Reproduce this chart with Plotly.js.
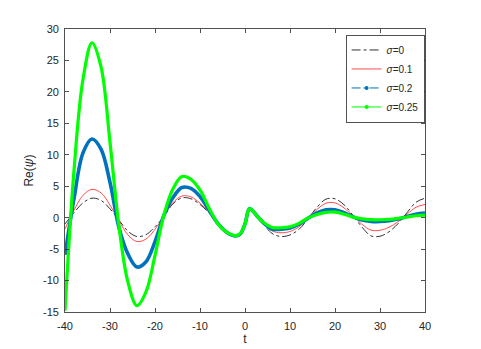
<!DOCTYPE html>
<html>
<head>
<meta charset="utf-8">
<script src="https://cdn.plot.ly/plotly-3.0.1.min.js"></script>
<style>
  html, body { margin: 0; padding: 0; background: #fff; }
  #plot { width: 481px; height: 349px; }
</style>
</head>
<body>
<div id="plot"></div>
<script>
// values
const t = [-40, -38, -36, -34, -32, -30, -28, -26, -24, -22, -20, -18, -16, -14, -12, -10, -8, -6, -4, -2,
  -1, 0, 1, 2, 3, 4, 6, 8, 10, 12, 14, 16, 18, 20, 22, 24, 26, 28, 30, 32, 34, 36, 38, 40];

const sigma0 = [-1.0, 0.8, 2.35, 3.1, 2.75, 1.4, -0.4, -2.15, -3.0, -2.7, -1.45, 0.2, 2.2, 3.15, 3.0, 2.1, 0.75, -0.9, -2.35, -2.95,
  -2.6, -1.0, 1.45, 0.85, 0.0, -0.9, -2.5, -3.0, -2.75, -1.85, -0.2, 1.65, 2.95, 3.0, 2.05, 0.37, -1.5, -2.9, -2.95, -2.25, -0.95, 0.8, 2.45, 3.1];

const sigma01 = [-1.8, 1.2, 3.55, 4.5, 3.95, 2.0, -0.5, -2.75, -3.8, -3.4, -1.85, 0.25, 2.4, 3.45, 3.3, 2.3, 0.85, -0.9, -2.35, -2.9,
  -2.55, -1.0, 1.45, 0.85, 0.0, -0.85, -2.1, -2.4, -2.2, -1.45, -0.15, 1.3, 2.3, 2.35, 1.55, 0.27, -1.05, -1.98, -2.0, -1.52, -0.65, 0.55, 1.66, 2.1];

const sigma02 = [-5.9, 3.0, 10.3, 12.5, 10.9, 5.6, -1.6, -5.8, -7.85, -7.0, -3.8, 0.4, 3.2, 4.8, 4.65, 3.35, 1.2, -0.95, -2.35, -2.9,
  -2.55, -1.0, 1.45, 0.85, 0.0, -0.75, -1.8, -1.85, -1.65, -1.05, -0.1, 0.75, 1.25, 1.25, 0.8, 0.13, -0.38, -0.6, -0.62, -0.48, -0.2, 0.18, 0.55, 0.72];

const sigma025 = [-14.8, 7.5, 22.0, 27.8, 24.0, 12.0, -1.4, -10.3, -14.0, -11.8, -6.0, 0.5, 4.6, 6.55, 6.1, 4.4, 1.55, -1.0, -2.35, -2.85,
  -2.5, -1.0, 1.45, 0.85, 0.0, -0.7, -1.55, -1.6, -1.45, -0.9, -0.08, 0.5, 0.85, 0.87, 0.55, 0.08, -0.18, -0.32, -0.33, -0.26, -0.1, 0.1, 0.3, 0.4];

const xTicks = [-40, -30, -20, -10, 0, 10, 20, 30, 40];
const xTickText = ['-40', '-30', '-20', '-10', '0', '10', '20', '30', '40'];
const yTicks = [-15, -10, -5, 0, 5, 10, 15, 20, 25, 30];
const yTickText = ['-15', '-10', '-5', '0', '5', '10', '15', '20', '25', '30'];

const names = ['<i>σ</i>=0', '<i>σ</i>=0.1', '<i>σ</i>=0.2', '<i>σ</i>=0.25'];

const traces = [
  {x: t, y: sigma0, name: names[0], mode: 'lines',
   line: {color: '#1a1a1a', width: 0.9, dash: 'dashdot', shape: 'spline'}},
  {x: t, y: sigma01, name: names[1], mode: 'lines',
   line: {color: '#ff2020', width: 0.8, shape: 'spline'}},
  {x: t, y: sigma02, name: names[2], mode: 'lines', showlegend: false,
   line: {color: '#0072BD', width: 3.6, shape: 'spline'}},
  {x: t, y: sigma025, name: names[3], mode: 'lines', showlegend: false,
   line: {color: '#00FF00', width: 3.2, shape: 'spline'}},
  // legend samples for the thick series (drawn with markers in the original)
  {x: [null], y: [null], name: names[2], mode: 'lines+markers',
   line: {color: '#0072BD', width: 1, dash: 'dashdot'}, marker: {size: 4, color: '#0072BD'}},
  {x: [null], y: [null], name: names[3], mode: 'lines+markers',
   line: {color: '#00FF00', width: 1}, marker: {size: 4, color: '#00FF00'}}
];

const font = 'Liberation Sans, Arial, sans-serif';

const axisCommon = {
  showline: true, mirror: 'allticks', linecolor: '#262626', linewidth: 0.8,
  ticks: 'inside', ticklen: 4, tickcolor: '#262626', tickwidth: 0.8,
  showgrid: false, zeroline: false,
  tickfont: {family: font, size: 11, color: '#262626'}
};

const layout = {
  width: 481, height: 349,
  margin: {l: 65, r: 56, t: 29, b: 37},
  paper_bgcolor: '#fff', plot_bgcolor: '#fff',
  showlegend: true,
  xaxis: Object.assign({}, axisCommon, {
    range: [-40, 40], tickvals: xTicks, ticktext: xTickText, ticklabelstandoff: 4,
    title: {text: 't', font: {family: font, size: 12, color: '#262626'}, standoff: 3}
  }),
  yaxis: Object.assign({}, axisCommon, {
    range: [-15, 30], tickvals: yTicks, ticktext: yTickText, ticklabelstandoff: 3,
    title: {text: 'Re(<i>ψ</i>)', font: {family: font, size: 12, color: '#262626'}, standoff: 6}
  }),
  legend: {
    x: 0.78, y: 0.98, xanchor: 'left', yanchor: 'top',
    bgcolor: '#fff', bordercolor: '#262626', borderwidth: 0.8,
    font: {family: font, size: 10, color: '#262626'},
    itemwidth: 30, tracegroupgap: 0
  }
};

Plotly.newPlot('plot', traces, layout, {staticPlot: true, displayModeBar: false});
</script>
</body>
</html>
